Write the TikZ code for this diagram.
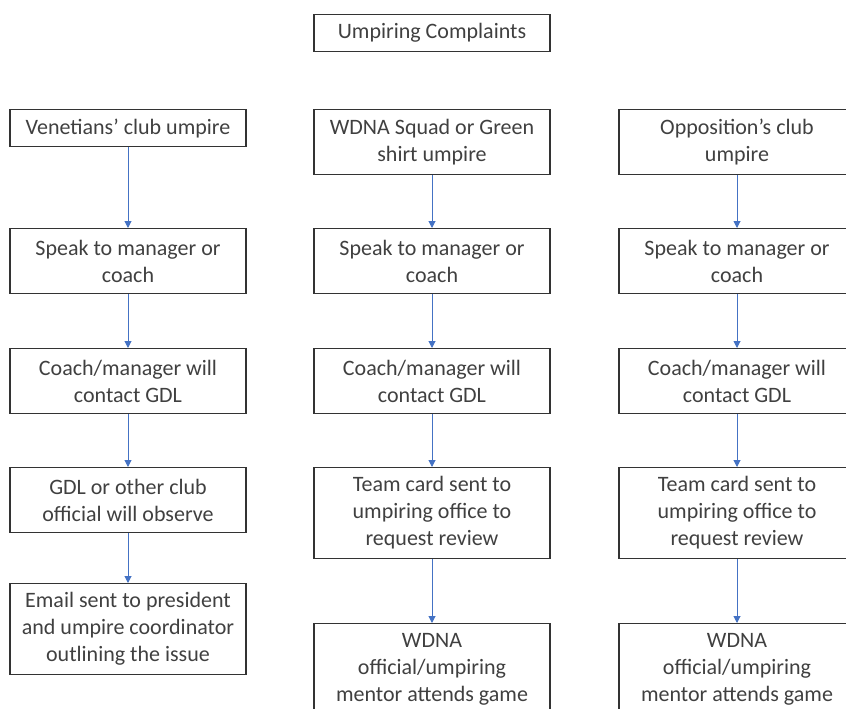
\documentclass[tikz,border=0pt]{standalone}
\usepackage{fontspec}
\setmainfont{Carlito}
\usetikzlibrary{arrows.meta}
\definecolor{linkblue}{HTML}{4472C4}

\begin{document}
\begin{tikzpicture}[x=1pt,y=-1pt,
    box/.style={draw=black!80,line width=1.2pt,text=black!75,
      font=\fontsize{22}{27}\selectfont,align=center,
      minimum width=236pt,inner sep=0pt,anchor=north},
    one/.style={box,minimum height=37pt},
    two/.style={box,minimum height=65pt},
    three/.style={box,minimum height=91pt},
    link/.style={draw=linkblue,line width=1pt,-{Triangle[length=7pt,width=7pt]}}]
    \useasboundingbox (0,0) rectangle (846,709);
    \clip (0,0) rectangle (846,709);
    \node [one] (top) at (432,14) {Umpiring Complaints};
    % Venetians
    \node [one] (ven1) at (128,109) {Venetians’ club umpire};
    \node [two] (ven2) at (128,228) {Speak to manager or\\coach};
    \node [two] (ven3) at (128,348) {Coach/manager will\\contact GDL};
    \node [two] (ven4) at (128,467) {GDL or other club\\official will observe};
    \node [three] (ven5) at (128,583) {Email sent to president\\and umpire coordinator\\outlining the issue};
    % WDNA
    \node [two] (wdna1) at (432,109) {WDNA Squad or Green\\shirt umpire};
    \node [two] (wdna2) at (432,228) {Speak to manager or\\coach};
    \node [two] (wdna3) at (432,348) {Coach/manager will\\contact GDL};
    \node [three] (wdna4) at (432,467) {Team card sent to\\umpiring office to\\request review};
    \node [three] (wdna5) at (432,623) {WDNA\\official/umpiring\\mentor attends game};
    % Opposition
    \node [two] (opp1) at (737,109) {Opposition’s club\\umpire};
    \node [two] (opp2) at (737,228) {Speak to manager or\\coach};
    \node [two] (opp3) at (737,348) {Coach/manager will\\contact GDL};
    \node [three] (opp4) at (737,467) {Team card sent to\\umpiring office to\\request review};
    \node [three] (opp5) at (737,623) {WDNA\\official/umpiring\\mentor attends game};
    \foreach \c in {ven,wdna,opp}
      \foreach \a/\b in {1/2,2/3,3/4,4/5}
        \draw [link] (\c\a) -- (\c\b);
  \end{tikzpicture}
\end{document}
